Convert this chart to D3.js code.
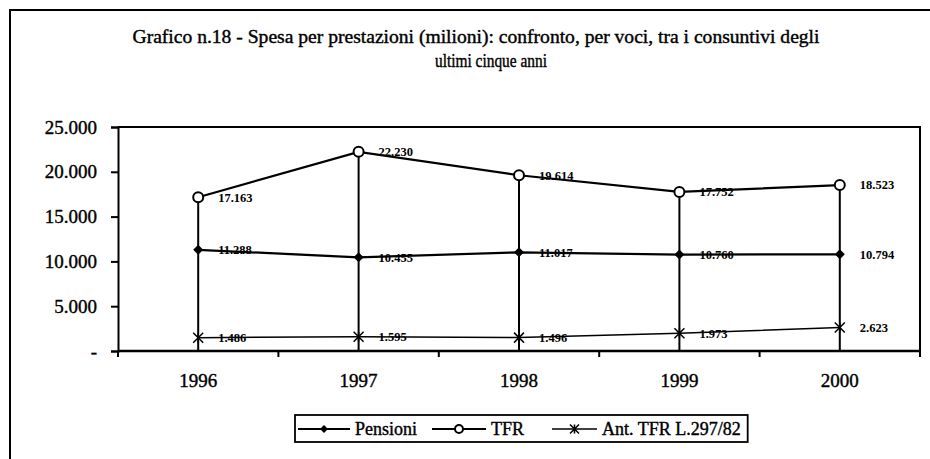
<!DOCTYPE html>
<html>
<head>
<meta charset="utf-8">
<script src="https://cdn.jsdelivr.net/npm/d3@7"></script>
<style>
  body { margin: 0; background: #fff; }
  text { font-family: "Liberation Serif", "Times New Roman", serif; fill: #000; }
  .heavy { stroke: #000; stroke-width: 0.4px; }
</style>
</head>
<body>
<svg id="chart" width="930" height="459"></svg>
<script>
var years = ['1996', '1997', '1998', '1999', '2000'];
var pensioni = [11288, 10455, 11017, 10760, 10794];
var tfr = [17163, 22230, 19614, 17752, 18523];
var antTfr = [1486, 1595, 1496, 1973, 2623];
var yTicks = [0, 5000, 10000, 15000, 20000, 25000];
var titleLines = ['Grafico n.18 - Spesa per prestazioni (milioni): confronto, per voci, tra i consuntivi degli',
                  'ultimi cinque anni'];
var seriesNames = ['Pensioni', 'TFR', 'Ant. TFR L.297/82'];

var svg = d3.select('#chart');
var plotLeft = 118, plotRight = 920, plotTop = 127, plotBottom = 351;

var fmt = function(v) {
  if (v === 0) return '-';
  return d3.format(',')(v).replace(/,/g, '.');
};

// outer frame (goes off the page on the right and bottom)
svg.append('rect')
  .attr('x', 10).attr('y', 10).attr('width', 940).attr('height', 470)
  .attr('fill', 'none').attr('stroke', '#000').attr('stroke-width', 2);

// title
svg.append('text')
  .attr('class', 'heavy')
  .attr('x', 476).attr('y', 43)
  .attr('text-anchor', 'middle')
  .attr('font-size', 19)
  .attr('textLength', 687).attr('lengthAdjust', 'spacingAndGlyphs')
  .text(titleLines[0]);
svg.append('text')
  .attr('class', 'heavy')
  .attr('x', 491).attr('y', 67)
  .attr('text-anchor', 'middle')
  .attr('font-size', 19)
  .attr('textLength', 112).attr('lengthAdjust', 'spacingAndGlyphs')
  .text(titleLines[1]);

var x = d3.scaleBand().domain(years).range([plotLeft, plotRight]);
var y = d3.scaleLinear().domain([0, 25000]).range([plotBottom, plotTop]);
var cx = function(d, i) { return x(years[i]) + x.bandwidth() / 2; };

// plot box (top and right)
svg.append('path')
  .attr('d', 'M' + plotLeft + ',' + plotTop + 'H' + plotRight + 'V' + plotBottom)
  .attr('fill', 'none').attr('stroke', '#000').attr('stroke-width', 2);

// y axis
var yAxis = svg.append('g')
  .attr('transform', 'translate(' + plotLeft + ',0)')
  .call(d3.axisLeft(y).tickValues(yTicks).tickSize(7).tickPadding(14).tickFormat(fmt));
yAxis.select('.domain').attr('stroke-width', 2);
yAxis.selectAll('.tick line').attr('stroke-width', 2);
yAxis.selectAll('.tick text')
  .attr('class', 'heavy')
  .attr('font-family', '"Liberation Serif", serif')
  .attr('font-size', 19)
  .attr('fill', '#000');

// x axis: ticks between categories
var xAxis = svg.append('g')
  .attr('transform', 'translate(0,' + plotBottom + ')');
xAxis.append('line')
  .attr('x1', plotLeft).attr('x2', plotRight)
  .attr('stroke', '#000').attr('stroke-width', 2.5);
var bounds = years.map(function(d) { return x(d); }).concat([plotRight]);
xAxis.selectAll('.xtick').data(bounds).enter().append('line')
  .attr('x1', function(d) { return d; }).attr('x2', function(d) { return d; })
  .attr('y1', 0).attr('y2', 6)
  .attr('stroke', '#000').attr('stroke-width', 2);
xAxis.selectAll('.xlab').data(years).enter().append('text')
  .attr('class', 'heavy')
  .attr('x', function(d) { return x(d) + x.bandwidth() / 2; })
  .attr('y', 36)
  .attr('text-anchor', 'middle')
  .attr('font-size', 19)
  .text(function(d) { return d; });

// drop lines from axis to the highest value
var maxVals = years.map(function(d, i) { return Math.max(pensioni[i], tfr[i], antTfr[i]); });
svg.selectAll('.drop').data(maxVals).enter().append('line')
  .attr('x1', cx).attr('x2', cx)
  .attr('y1', y(0)).attr('y2', function(d) { return y(d); })
  .attr('stroke', '#000').attr('stroke-width', 2);

var line = d3.line().x(cx).y(function(d) { return y(d); });

svg.append('path').datum(antTfr).attr('d', line)
  .attr('fill', 'none').attr('stroke', '#000').attr('stroke-width', 1.5);
svg.append('path').datum(pensioni).attr('d', line)
  .attr('fill', 'none').attr('stroke', '#000').attr('stroke-width', 2.2);
svg.append('path').datum(tfr).attr('d', line)
  .attr('fill', 'none').attr('stroke', '#000').attr('stroke-width', 2.2);

function drawX(g, px, py, s) {
  g.append('path')
    .attr('d', 'M' + (px - s) + ',' + (py - s) + 'L' + (px + s) + ',' + (py + s) +
               'M' + (px - s) + ',' + (py + s) + 'L' + (px + s) + ',' + (py - s) +
               'M' + px + ',' + (py - s) + 'V' + (py + s))
    .attr('stroke', '#000').attr('stroke-width', 1.5).attr('fill', 'none');
}
function drawDiamond(g, px, py, s) {
  g.append('path')
    .attr('d', 'M' + px + ',' + (py - s) + 'L' + (px + s) + ',' + py + 'L' + px + ',' + (py + s) + 'L' + (px - s) + ',' + py + 'Z')
    .attr('fill', '#000');
}
function drawCircle(g, px, py, r) {
  g.append('circle').attr('cx', px).attr('cy', py).attr('r', r)
    .attr('fill', '#fff').attr('stroke', '#000').attr('stroke-width', 2);
}

var marks = svg.append('g');
antTfr.forEach(function(v, i) { drawX(marks, cx(v, i), y(v), 5); });
pensioni.forEach(function(v, i) { drawDiamond(marks, cx(v, i), y(v), 5); });
tfr.forEach(function(v, i) { drawCircle(marks, cx(v, i), y(v), 5); });

// data labels
[pensioni, tfr, antTfr].forEach(function(series) {
  svg.append('g').selectAll('text').data(series).enter().append('text')
    .attr('x', function(d, i) { return cx(d, i) + 20; })
    .attr('y', function(d) { return y(d); })
    .attr('dy', '0.35em')
    .attr('font-size', 12.5)
    .attr('font-weight', 'bold')
    .text(fmt);
});

// legend
var lg = svg.append('g');
var lgTop = 415, lgBottom = 442, lgMid = 429;
var items = [
  { name: seriesNames[0], x1: 298, x2: 350, draw: drawDiamond, s: 4, w: 2 },
  { name: seriesNames[1], x1: 432, x2: 486, draw: drawCircle, s: 4, w: 2 },
  { name: seriesNames[2], x1: 552, x2: 597, draw: drawX, s: 4.5, w: 1.5 }
];
var endX = 0;
items.forEach(function(it) {
  lg.append('line').attr('x1', it.x1).attr('x2', it.x2).attr('y1', lgMid).attr('y2', lgMid)
    .attr('stroke', '#000').attr('stroke-width', it.w);
  it.draw(lg, (it.x1 + it.x2) / 2, lgMid, it.s);
  var t = lg.append('text').attr('class', 'heavy').attr('x', it.x2 + 5).attr('y', lgMid).attr('dy', '0.35em')
    .attr('font-size', 18).text(it.name);
  endX = it.x2 + 5 + t.node().getComputedTextLength();
});
lg.insert('rect', ':first-child')
  .attr('x', 295).attr('y', lgTop).attr('width', endX + 7 - 295).attr('height', lgBottom - lgTop)
  .attr('fill', '#fff').attr('stroke', '#000').attr('stroke-width', 1.8);
</script>
</body>
</html>
